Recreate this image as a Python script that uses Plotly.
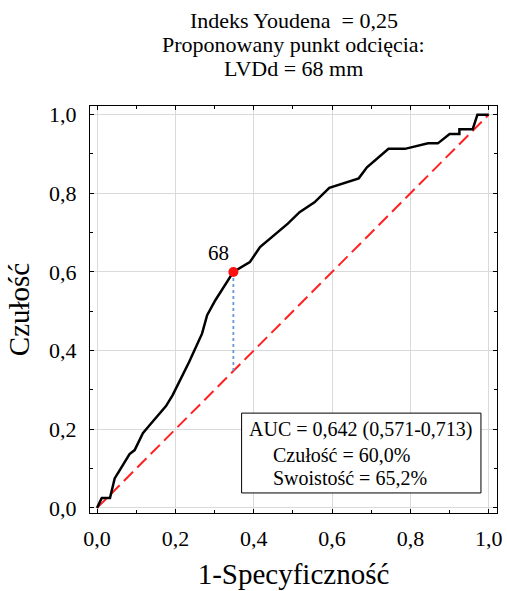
import plotly.graph_objects as go

# ROC curve: 1-specificity (x) vs sensitivity (y)
fpr = [0.0, 0.012, 0.033, 0.045, 0.058, 0.083, 0.096, 0.117, 0.134, 0.176, 0.193,
       0.235, 0.268, 0.281, 0.302, 0.348, 0.39, 0.416, 0.487, 0.517, 0.555, 0.593,
       0.668, 0.689, 0.744, 0.786, 0.845, 0.870, 0.900, 0.925, 0.925, 0.959, 0.971, 1.0]
tpr = [0.0, 0.025, 0.025, 0.075, 0.096, 0.137, 0.147, 0.19, 0.21, 0.259, 0.287,
       0.371, 0.443, 0.49, 0.528, 0.60, 0.625, 0.663, 0.723, 0.752, 0.777, 0.814,
       0.838, 0.866, 0.913, 0.913, 0.927, 0.927, 0.951, 0.951, 0.963, 0.963, 1.0, 1.0]

# Optimal cut-off (Youden index)
cut_fpr = 0.348
cut_tpr = 0.600
cut_label = "68"

tick_vals = [0.0, 0.2, 0.4, 0.6, 0.8, 1.0]
tick_text = ["0,0", "0,2", "0,4", "0,6", "0,8", "1,0"]

title_lines = ["Indeks Youdena  = 0,25", "Proponowany punkt odcięcia:", "LVDd = 68 mm"]
stats_lines = ["AUC = 0,642 (0,571-0,713)", "Czułość = 60,0%", "Swoistość = 65,2%"]

serif = "Liberation Serif, Times New Roman, serif"

fig = go.Figure()

# reference diagonal
fig.add_trace(go.Scatter(x=[0, 1], y=[0, 1], mode="lines",
                         line=dict(color="#ff2020", width=2, dash="13px,6px"),
                         hoverinfo="skip", showlegend=False))

# vertical dotted line from the cut-off point down to the diagonal
fig.add_trace(go.Scatter(x=[cut_fpr, cut_fpr], y=[cut_tpr, cut_fpr], mode="lines",
                         line=dict(color="#6a96d6", width=1.8, dash="dot"),
                         hoverinfo="skip", showlegend=False))

# ROC curve
fig.add_trace(go.Scatter(x=fpr, y=tpr, mode="lines",
                         line=dict(color="black", width=2.5),
                         showlegend=False))

# cut-off marker
fig.add_trace(go.Scatter(x=[cut_fpr], y=[cut_tpr], mode="markers",
                         marker=dict(color="#ff1010", size=10),
                         showlegend=False))
fig.add_annotation(x=cut_fpr, y=cut_tpr, xref="x", yref="y", text=cut_label,
                   showarrow=False, xanchor="center", yanchor="middle",
                   xshift=-15, yshift=19,
                   font=dict(family=serif, size=21, color="black"))

axis_common = dict(
    showline=True, linecolor="black", linewidth=1, mirror="allticks",
    ticks="inside", ticklen=4, tickcolor="black",
    tickvals=tick_vals, ticktext=tick_text,
    minor=dict(dtick=0.1, ticks="inside", ticklen=3, tickcolor="black", showgrid=False),
    showgrid=True, gridcolor="#dadada", gridwidth=1,
    zeroline=False,
    ticklabeloverflow="allow",
    tickfont=dict(family=serif, size=22, color="black"),
)

fig.update_xaxes(range=[-0.018, 1.021], ticklabelstandoff=6,
                 title=dict(text="1-Specyficzność", font=dict(family=serif, size=29, color="black"),
                            standoff=13),
                 **axis_common)
fig.update_yaxes(range=[-0.013, 1.022], ticklabelstandoff=8,
                 title=dict(text="Czułość", font=dict(family=serif, size=29, color="black"),
                            standoff=10),
                 **axis_common)

# three-line header above the plot
for line, shift in zip(title_lines, [86, 62, 38]):
    fig.add_annotation(
        xref="paper", yref="paper", x=0.5, y=1.0, yshift=shift,
        xanchor="center", yanchor="middle",
        text=line, showarrow=False,
        font=dict(family=serif, size=22, color="black"),
    )

# statistics box
fig.add_shape(type="rect", xref="x", yref="y", x0=0.369, x1=0.980, y0=0.038, y1=0.241,
              line=dict(color="black", width=1), fillcolor="white", layer="above")
for line, xpos, ypos in zip(stats_lines, [0.382, 0.445, 0.445], [0.2, 0.134, 0.076]):
    fig.add_annotation(
        xref="x", yref="y", x=xpos, y=ypos, xanchor="left", yanchor="middle",
        text=line, showarrow=False,
        font=dict(family=serif, size=20, color="black"),
    )

fig.update_layout(
    width=507, height=591,
    margin=dict(l=90, r=5, t=106, b=78),
    plot_bgcolor="white", paper_bgcolor="white",
)

fig.write_html("out.html")
